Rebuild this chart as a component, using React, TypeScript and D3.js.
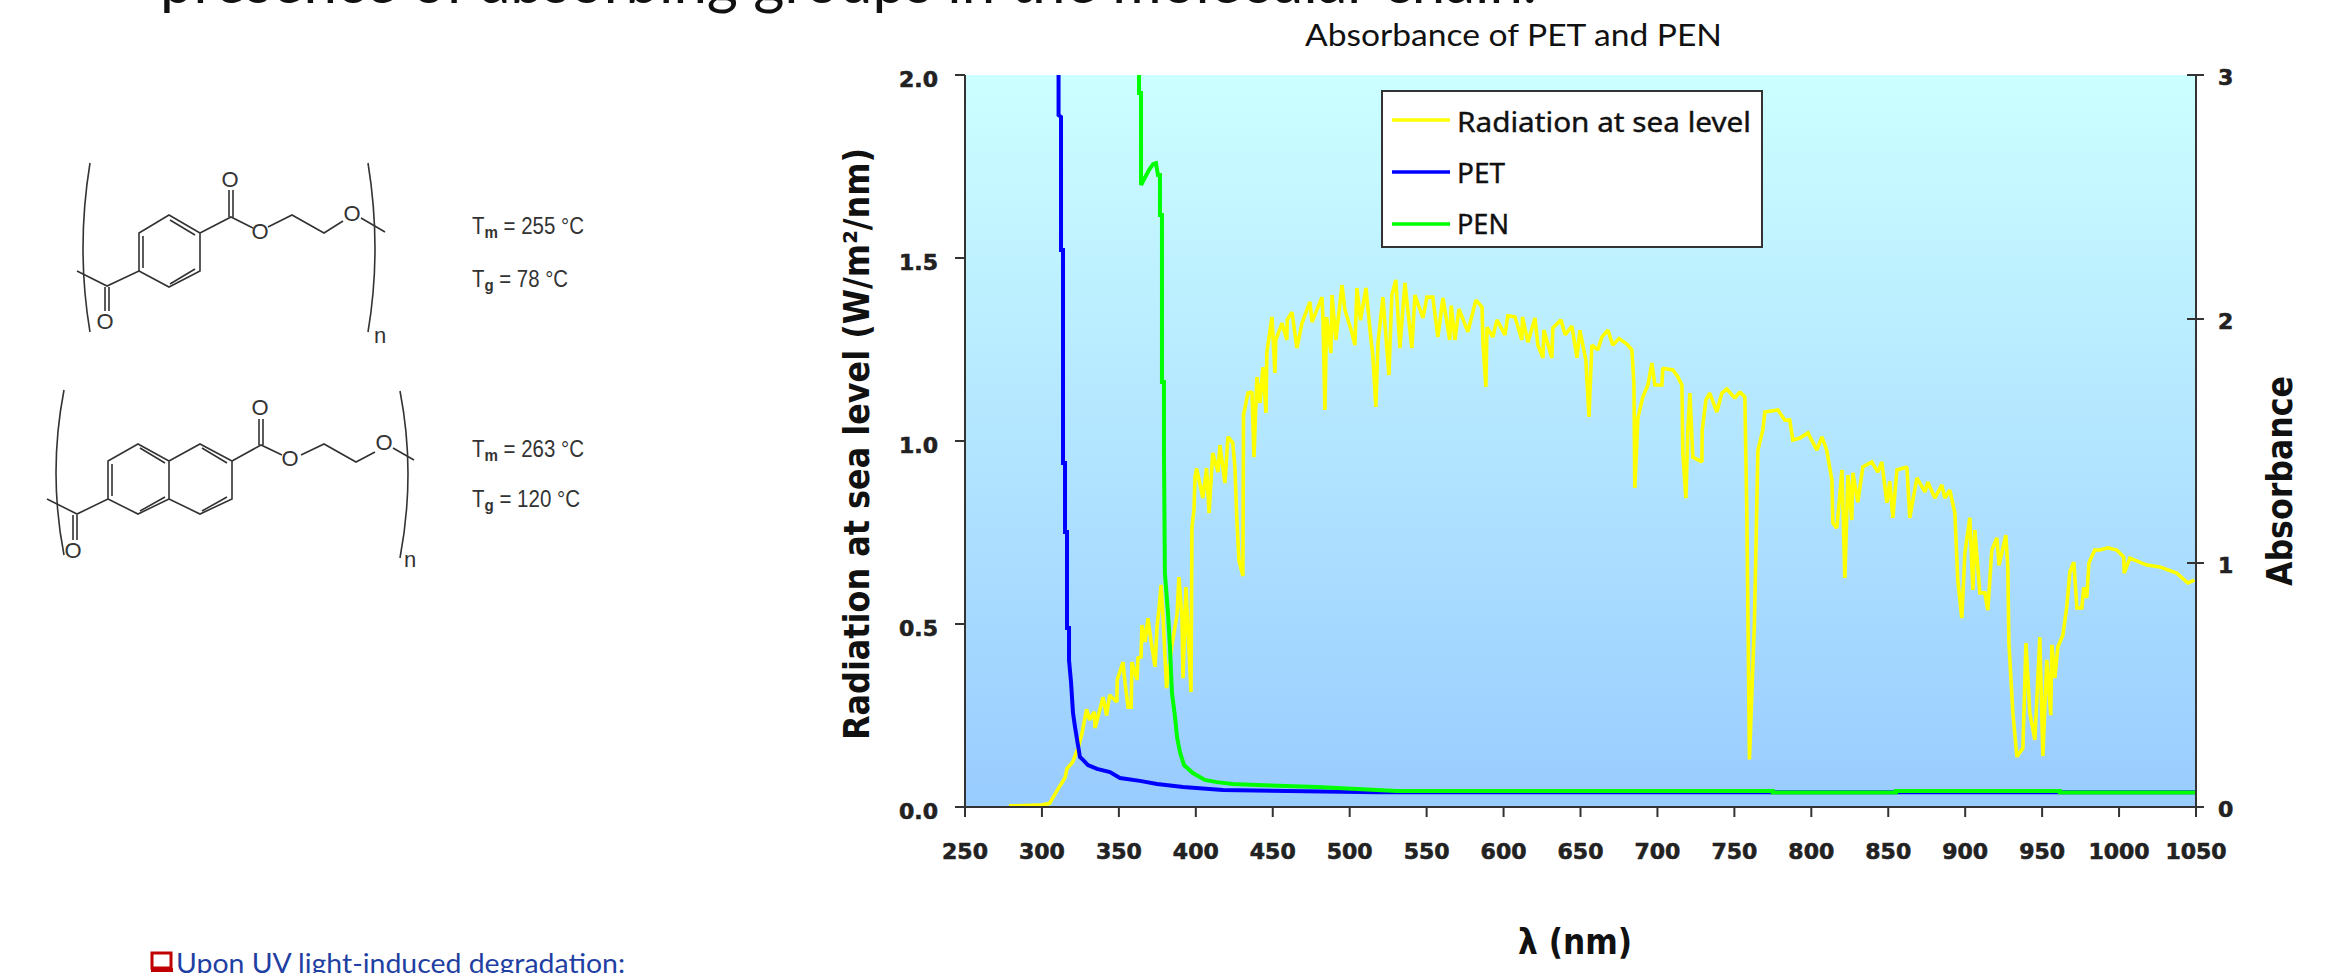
import React from "react";
import * as d3 from "d3";

const chartTitle = "Absorbance of PET and PEN";
const xTicks = [250, 300, 350, 400, 450, 500, 550, 600, 650, 700, 750, 800, 850, 900, 950, 1000, 1050];
const leftTicks = [0, 0.5, 1, 1.5, 2];
const rightTicks = [0, 1, 2, 3];
const legendLabels = ["Radiation at sea level", "PET", "PEN"];
const seriesColors = ["#FFFF00", "#0000FF", "#00FF00"];

// [wavelength nm, W/m2/nm]
const radiation: [number, number][] = [
  [278.6,.003],[298.7,.005],[305,.01],[310,.046],[315,.08],[316.3,.105],[320,.123],[323.4,.16],[326,.2],[329,.267],[331,.238],[334,.26],[334.5,.216],[339.7,.3],[342,.25],[344,.306],[348.7,.287],[348.9,.347],[352.7,.396],[354,.339],[356,.273],[358,.273],[358.5,.396],[361.8,.347],[362.4,.407],[364.4,.41],[365,.497],[367,.451],[368.9,.516],[371,.451],[373.5,.383],[374.8,.492],[376,.538],[377.4,.607],[378.7,.519],[381,.325],[384.5,.443],[387.8,.525],[389,.628],[391,.519],[391.7,.352],[393.6,.601],[394.9,.484],[396.9,.314],[397.5,.765],[398.8,.811],[399.5,.902],[400.5,.925],[404.6,.844],[407,.926],[408.6,.803],[411,.967],[414.4,.915],[415.7,.989],[418.9,.885],[420.9,1.011],[424,.995],[425.4,.929],[426.7,.784],[428,.675],[430.6,.631],[431,1.071],[433.9,1.131],[436.5,1.134],[437.8,.956],[439.7,1.175],[441.7,1.104],[443.6,1.202],[445.6,1.077],[446.2,1.243],[449.5,1.339],[451.4,1.186],[452,1.276],[456,1.322],[459.2,1.276],[459.4,1.331],[462.5,1.352],[465.7,1.254],[469,1.322],[472.2,1.358],[474.2,1.38],[475.5,1.325],[482,1.393],[482.6,1.339],[483.9,1.085],[485,1.339],[487.8,1.24],[488.5,1.399],[491,1.276],[495,1.426],[496.9,1.358],[501.5,1.295],[503.4,1.262],[504.7,1.418],[507,1.33],[510.6,1.418],[513.2,1.303],[515,1.235],[517,1.093],[518.4,1.268],[521.6,1.393],[525.5,1.18],[527.4,1.399],[530,1.44],[532.6,1.254],[535.9,1.432],[540.4,1.254],[542.4,1.399],[547.6,1.336],[550.2,1.393],[554,1.393],[557.3,1.284],[560.6,1.391],[565,1.276],[566,1.37],[568.4,1.276],[571,1.361],[576.8,1.298],[582,1.385],[586,1.366],[586.6,1.268],[588.5,1.148],[589.2,1.311],[593,1.284],[595.7,1.331],[600.9,1.29],[602.8,1.342],[607.4,1.339],[611.9,1.276],[612.3,1.339],[615.8,1.27],[620.4,1.336],[622.3,1.262],[625.6,1.227],[626.2,1.303],[631.4,1.227],[632,1.309],[637.3,1.331],[640,1.29],[644.4,1.314],[647.7,1.227],[649.6,1.303],[653.5,1.221],[655.5,1.066],[657.4,1.262],[661.3,1.249],[663.9,1.284],[667.8,1.303],[671,1.262],[675,1.28],[680.1,1.265],[683.4,1.249],[684.7,1.158],[685.3,.872],[687.3,1.063],[690.5,1.12],[693.8,1.153],[696.4,1.213],[698.3,1.153],[702.9,1.153],[703.5,1.199],[710,1.194],[713.3,1.175],[715.9,1.153],[716.5,.967],[718.5,.844],[719.8,1.036],[721.1,1.131],[723,.956],[728.9,.943],[729.1,1.03],[731.5,1.112],[734,1.131],[738.6,1.079],[741.9,1.131],[745.1,1.142],[750.3,1.117],[753.6,1.134],[756.8,1.12],[758.1,.803],[759.8,.13],[763,.5],[765.3,.975],[768.5,1.03],[769.8,1.079],[778.3,1.085],[782.8,1.057],[786,1.057],[788,1.003],[792.6,1.008],[797.8,1.022],[803.6,.975],[806.9,1.011],[810,.975],[813.4,.893],[814,.776],[816.6,.762],[819.9,.921],[821.8,.626],[823.8,.907],[826.3,.784],[827,.913],[830.2,.833],[833.5,.929],[839.3,.943],[843.2,.915],[845.8,.943],[849.1,.831],[851,.89],[853,.79],[855.6,.921],[862.1,.929],[864,.79],[868.6,.899],[873.8,.861],[875.7,.888],[880.3,.844],[884.8,.88],[886.8,.844],[890,.866],[893.3,.803],[895.2,.62],[897.8,.516],[899.8,.694],[903,.79],[905,.593],[906.3,.757],[909.5,.585],[912.8,.585],[914.7,.538],[917.3,.702],[920.6,.735],[922,.66],[926.4,.743],[927.7,.656],[928.4,.448],[931,.257],[933.6,.137],[937.5,.161],[939.5,.448],[942,.257],[945.3,.183],[948.5,.464],[950.5,.139],[953,.402],[955.6,.251],[956.3,.443],[958.3,.352],[960.2,.437],[963.5,.47],[966,.546],[968,.642],[970.6,.669],[972.6,.544],[975.8,.544],[977,.6],[979,.571],[980.4,.667],[984.2,.702],[987.5,.702],[992.7,.708],[998.5,.702],[1003,.683],[1003.3,.639],[1007,.68],[1018,.661],[1026.5,.656],[1037.5,.639],[1044.7,.612],[1049,.62],
];

// [wavelength nm, absorbance]
const pet: [number, number][] = [
  [310.8,3],[310.8,2.836],[312.4,2.828],[312.4,2.283],[313.7,2.283],[313.7,1.41],[315,1.41],[315,1.127],[316.3,1.127],[316.3,.734],[317.6,.734],[317.6,.602],[318.9,.512],[320.2,.385],[321.5,.328],[323.4,.254],[324.7,.205],[326.7,.193],[329.9,.172],[335.8,.156],[344.2,.143],[350.7,.119],[363.7,.107],[374.8,.094],[391.7,.082],[417.6,.07],[517.7,.06],[1050,.06],
];
const pen: [number, number][] = [
  [363.1,3],[363.1,2.926],[364.4,2.926],[364.4,2.549],[369.6,2.611],[372.2,2.635],[374.1,2.639],[375.4,2.59],[376.7,2.59],[376.7,2.426],[378,2.426],[378,1.742],[379.3,1.742],[379.3,1.463],[379.9,.959],[381.9,.795],[383.2,.656],[384.5,.467],[386.5,.369],[387.8,.287],[389.7,.225],[392.3,.172],[398.1,.139],[405.9,.111],[413.7,.102],[424.1,.094],[439.7,.09],[478.7,.082],[530.7,.0656],[775,.0656],[775,.0594],[855,.0594],[855,.0656],[961.5,.0656],[961.5,.0594],[1050,.0594],
];

const x = d3.scaleLinear().domain([250, 1050]).range([965, 2196]);
const yLeft = d3.scaleLinear().domain([0, 2]).range([807, 75]);
const yRight = d3.scaleLinear().domain([0, 3]).range([807, 75]);

const radiationLine = d3.line<[number, number]>().x((d) => x(d[0])).y((d) => yLeft(d[1]));
const absorbanceLine = d3.line<[number, number]>().x((d) => x(d[0])).y((d) => yRight(d[1]));

const BOLD = "'DejaVu Sans', sans-serif";
const AXIS = "#333333";
const CHEM = "#333333";

const petBonds = [
  "M77,271L107,286L139,271L139,233L169,215L200,233L200,271L169,287L139,271",
  "M143,268L143,236 M170,220L195,235 M195,269L170,284",
  "M200,233L231,217L253,228 M268,227L292,215L324,233L343,221 M361,218L385,232",
  "M105,287L105,311 M109,287L109,311 M229,217L229,190 M233,217L233,190",
  "M90,163Q76,249 90,332 M368,163Q382,249 368,332",
];
const penBonds = [
  "M47,499L77,514L108,499L108,461L138,444L169,461L169,499L138,514L108,499",
  "M169,461L200,444L232,461L232,499L200,514L169,499",
  "M112,496L112,464 M140,448L165,463 M165,497L140,511 M202,448L227,463 M227,497L202,511",
  "M232,461L261,445L282,455 M301,455L324,444L356,462L375,452 M393,448L414,460",
  "M73,515L73,540 M77,515L77,540 M259,445L259,419 M263,445L263,419",
  "M64,390Q48,473 64,555 M400,391Q416,473 400,558",
];
const atoms: [number, number, string][] = [
  [105, 321, "O"], [230, 179, "O"], [260, 231, "O"], [352, 213, "O"], [380, 335, "n"],
  [73, 550, "O"], [260, 407, "O"], [290, 458, "O"], [384, 442, "O"], [410, 559, "n"],
];
const thermal: [number, number, string, string, number][] = [
  [234, "m", " = 255 °C", "", 112],
  [287, "g", " = 78 °C", "", 96],
  [457, "m", " = 263 °C", "", 112],
  [507, "g", " = 120 °C", "", 108],
];

export default function App() {
  return (
    <svg width={2342} height={973} viewBox="0 0 2342 973" style={{ position: "fixed", left: 0, top: 0, background: "#fff" }}>
      <defs>
        <linearGradient id="plotBg" x1="0" y1="0" x2="0" y2="1">
          <stop offset="0" stopColor="#CCFFFF" />
          <stop offset="1" stopColor="#99CCFF" />
        </linearGradient>
      </defs>

      {/* cropped slide heading and footer */}
      <text x={160} y={3} fontFamily="Lato, sans-serif" fontSize={60} textLength={1377} lengthAdjust="spacingAndGlyphs" fill="#111">
        presence of absorbing groups in the molecular chain.
      </text>
      <text x={1305} y={46} fontFamily="Lato, sans-serif" fontSize={30} textLength={417} lengthAdjust="spacingAndGlyphs" fill="#111">
        {chartTitle}
      </text>
      <rect x={152} y={953} width={19} height={15} fill="none" stroke="#C00000" strokeWidth={3} />
      <line x1={151} x2={173} y1={970} y2={970} stroke="#C00000" strokeWidth={4} />
      <text x={176} y={973} fontFamily="Lato, sans-serif" fontSize={26} textLength={449} lengthAdjust="spacingAndGlyphs" fill="#1F3FA3">
        Upon UV light-induced degradation:
      </text>

      {/* chemical structures */}
      <g fill="none" stroke={CHEM} strokeWidth={1.6}>
        {[...petBonds, ...penBonds].map((d, i) => <path key={i} d={d} />)}
      </g>
      <g fontFamily="'Liberation Sans', sans-serif" fontSize={22} fill={CHEM} textAnchor="middle">
        {atoms.map(([ax, ay, t], i) => <text key={i} x={ax} y={ay + 8}>{t}</text>)}
      </g>
      <g fontFamily="'Liberation Sans', sans-serif" fontSize={23} fill="#333">
        {thermal.map(([ty, sub, rest, , w], i) => (
          <text key={i} x={472} y={ty} textLength={w} lengthAdjust="spacingAndGlyphs">
            T<tspan fontWeight="bold" fontSize={17} dy={4}>{sub}</tspan><tspan dy={-4}>{rest}</tspan>
          </text>
        ))}
      </g>

      {/* plot */}
      <rect x={965} y={75} width={1231} height={732} fill="url(#plotBg)" />
      <path d={radiationLine(radiation) ?? ""} fill="none" stroke={seriesColors[0]} strokeWidth={3.6} strokeLinejoin="miter" strokeMiterlimit={1.5} />
      <path d={absorbanceLine(pet) ?? ""} fill="none" stroke={seriesColors[1]} strokeWidth={4} />
      <path d={absorbanceLine(pen) ?? ""} fill="none" stroke={seriesColors[2]} strokeWidth={4} />

      {/* axes */}
      <g stroke={AXIS} strokeWidth={2} fill="none">
        <path d={`M${x(250)},75V807H${x(1050)}`} />
        <path d={`M${x(1050)},75V807`} />
        {xTicks.map((t) => <line key={t} x1={x(t)} x2={x(t)} y1={807} y2={817} />)}
        {leftTicks.map((t) => <line key={t} x1={955} x2={965} y1={yLeft(t)} y2={yLeft(t)} />)}
        {rightTicks.map((t) => <line key={t} x1={2187} x2={2204} y1={yRight(t)} y2={yRight(t)} />)}
      </g>
      <g fontFamily={BOLD} fontWeight="bold" fontSize={22} fill="#222" stroke="#222" strokeWidth={0.6}>
        {xTicks.map((t) => <text key={t} x={x(t)} y={859} textAnchor="middle">{t}</text>)}
        {leftTicks.map((t) => <text key={t} x={938} y={yLeft(t) + 12} textAnchor="end">{t.toFixed(1)}</text>)}
        {rightTicks.map((t) => <text key={t} x={2218} y={yRight(t) + 10}>{t}</text>)}
      </g>

      {/* axis titles */}
      <g fontFamily={BOLD} fontWeight="bold" fontSize={36} fill="#111">
        <text transform="translate(869,444) rotate(-90)" textAnchor="middle" textLength={592} lengthAdjust="spacingAndGlyphs">
          Radiation at sea level (W/m²/nm)
        </text>
        <text transform="translate(2292,481) rotate(-90)" textAnchor="middle" textLength={210} lengthAdjust="spacingAndGlyphs">
          Absorbance
        </text>
        <text x={1518} y={954} textLength={114} lengthAdjust="spacingAndGlyphs">λ (nm)</text>
      </g>

      {/* legend */}
      <rect x={1382} y={91} width={380} height={156} fill="#fff" stroke={AXIS} strokeWidth={2} />
      {legendLabels.map((label, i) => (
        <g key={label}>
          <line x1={1392} x2={1450} y1={120 + i * 52} y2={120 + i * 52} stroke={seriesColors[i]} strokeWidth={3.5} />
          <text x={1457} y={132 + i * 51} fontFamily="'Noto Sans', sans-serif" fontSize={28} fill="#111" stroke="#111" strokeWidth={0.4} textLength={[294, 48, 52][i]} lengthAdjust="spacingAndGlyphs">
            {label}
          </text>
        </g>
      ))}
    </svg>
  );
}
